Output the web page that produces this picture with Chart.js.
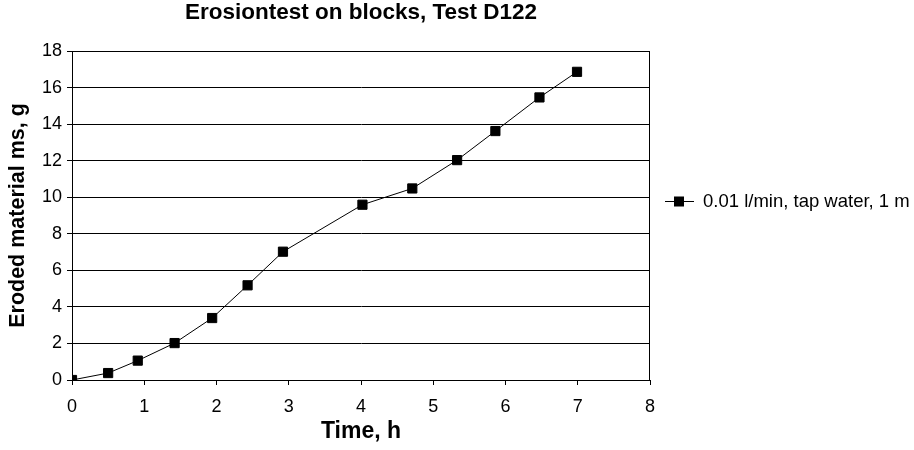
<!DOCTYPE html>
<html>
<head>
<meta charset="utf-8">
<script src="https://cdn.jsdelivr.net/npm/chart.js@4/dist/chart.umd.min.js"></script>
<style>
  html, body { margin: 0; padding: 0; background: #fff; }
  #wrap { width: 914px; height: 450px; position: relative; }
</style>
</head>
<body>
<div id="wrap"><canvas id="c" width="914" height="450"></canvas></div>
<script>
const chartTitle = 'Erosiontest on blocks, Test D122';
const xAxisTitle = 'Time, h';
const yAxisTitle = 'Eroded material ms, g';
const seriesLabel = '0.01 l/min, tap water, 1 m';
const timeH   = [0, 0.50, 0.91, 1.42, 1.94, 2.43, 2.92, 4.02, 4.71, 5.33, 5.86, 6.47, 6.99];
const erodedG = [0, 0.38, 1.06, 2.02, 3.39, 5.18, 7.02, 9.59, 10.48, 12.03, 13.62, 15.46, 16.86];
const xTicks = [0, 1, 2, 3, 4, 5, 6, 7, 8];
const yTicks = [0, 2, 4, 6, 8, 10, 12, 14, 16, 18];

const FONT = '"Liberation Sans", Arial, sans-serif';

const points = timeH.map((t, i) => ({ x: t, y: erodedG[i] }));

const decorPlugin = {
  id: 'decor',
  afterDraw(chart) {
    const ctx = chart.ctx;
    const a = chart.chartArea;
    ctx.save();
    // plot frame (right and top edges)
    ctx.strokeStyle = '#000';
    ctx.lineWidth = 1;
    ctx.beginPath();
    ctx.moveTo(Math.round(a.left) + 0.5, Math.round(a.top) + 0.5);
    ctx.lineTo(Math.round(a.right) - 0.5, Math.round(a.top) + 0.5);
    ctx.lineTo(Math.round(a.right) - 0.5, Math.round(a.bottom) + 0.5);
    ctx.stroke();
    // chart title
    ctx.fillStyle = '#000';
    ctx.font = 'bold 22.5px ' + FONT;
    ctx.textAlign = 'center';
    ctx.textBaseline = 'middle';
    ctx.fillText(chartTitle, (a.left + a.right) / 2, 13);
    // legend
    const ds = chart.data.datasets[0];
    const ly = 201;
    ctx.beginPath();
    ctx.moveTo(665, ly + 0.5);
    ctx.lineTo(694, ly + 0.5);
    ctx.stroke();
    ctx.fillRect(674, ly - 4.5, 10, 10);
    ctx.font = '18.5px ' + FONT;
    ctx.textAlign = 'left';
    ctx.fillText(ds.label, 703, ly + 1);
    ctx.restore();
  }
};

new Chart(document.getElementById('c'), {
  type: 'scatter',
  data: {
    datasets: [{
      label: seriesLabel,
      data: points,
      showLine: true,
      borderColor: '#000',
      borderWidth: 1,
      backgroundColor: '#000',
      pointStyle: 'rect',
      pointRadius: 6.5,
      pointBorderWidth: 1,
      pointBorderColor: '#000',
      pointBackgroundColor: '#000',
      tension: 0
    }]
  },
  options: {
    responsive: false,
    animation: false,
    devicePixelRatio: 1,
    layout: { padding: { top: 51, right: 264, bottom: 0, left: 0 } },
    plugins: {
      legend: { display: false },
      title: { display: false },
      tooltip: { enabled: false }
    },
    scales: {
      x: {
        type: 'linear',
        min: 0, max: 8,
        afterFit: (s) => { s.height = 70; },
        afterBuildTicks: (s) => { s.ticks = xTicks.map(v => ({ value: v })); },
        border: { display: true, color: '#000', width: 1 },
        grid: { drawOnChartArea: false, drawTicks: true, tickLength: 5, color: '#000' },
        ticks: { color: '#000', font: { family: FONT, size: 18 }, padding: 11, maxRotation: 0 },
        title: { display: true, text: xAxisTitle, color: '#000',
                 font: { family: FONT, size: 23, weight: 'bold' }, padding: { top: 0, bottom: 5 } }
      },
      y: {
        type: 'linear',
        min: 0, max: 18,
        afterFit: (s) => { s.width = 72; },
        afterBuildTicks: (s) => { s.ticks = yTicks.map(v => ({ value: v })); },
        border: { display: true, color: '#000', width: 1 },
        grid: { drawOnChartArea: true, drawTicks: true, tickLength: 5, color: '#000' },
        ticks: { color: '#000', font: { family: FONT, size: 18 }, padding: 5 },
        title: { display: true, text: yAxisTitle, color: '#000',
                 font: { family: FONT, size: 21.5, weight: 'bold' }, padding: { top: 5, bottom: 0 } }
      }
    }
  },
  plugins: [decorPlugin]
});
</script>
</body>
</html>
